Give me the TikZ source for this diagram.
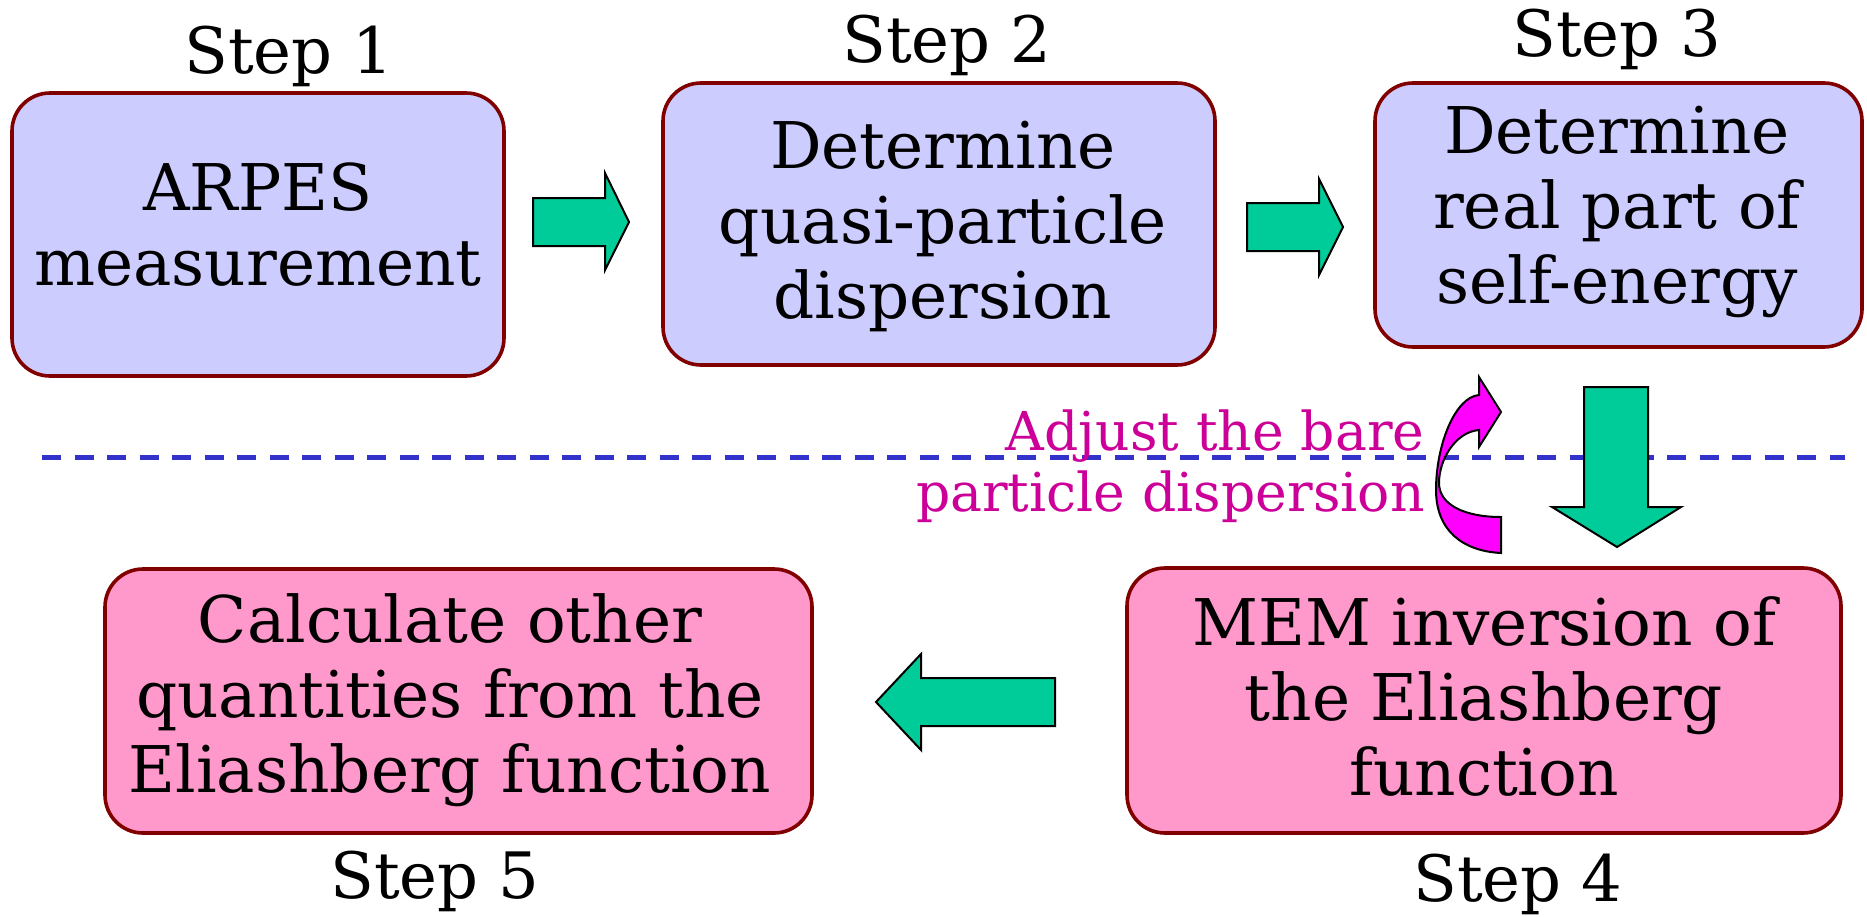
\documentclass[tikz,border=0pt]{standalone}
\usepackage{fontspec}
\setmainfont{DejaVu Serif}
\usetikzlibrary{fit}
\definecolor{boxedge}{RGB}{128,0,0}
\definecolor{bluefill}{RGB}{204,204,255}
\definecolor{pinkfill}{RGB}{255,153,204}
\definecolor{arrowgreen}{RGB}{0,204,153}
\definecolor{dashblue}{RGB}{51,51,204}
\definecolor{magtext}{RGB}{204,0,153}
\definecolor{magarrow}{RGB}{255,0,255}
\tikzset{
  stepbox/.style={draw=boxedge, line width=1.8pt, rounded corners=19pt, inner sep=0pt},
  bluebox/.style={stepbox, fill=bluefill},
  pinkbox/.style={stepbox, fill=pinkfill},
  boxtext/.style={align=center, inner sep=0pt, font=\fontsize{32.2pt}{37.5pt}\selectfont},
  steplabel/.style={anchor=base, inner sep=0pt, font=\fontsize{32pt}{37.5pt}\selectfont},
  blockarrow/.style={draw=black, line width=1pt, fill=arrowgreen, line join=miter},
}
\begin{document}
\begin{tikzpicture}[x=0.5pt, y=-0.5pt]
\useasboundingbox (0,0) rectangle (1867,916);
% dashed separator
\coordinate (dl) at (42,457);
\coordinate (dr) at (1845,457);
\draw[dashblue, line width=2.5pt, dash pattern=on 9.5pt off 6.75pt] (dl) -- (dr);
% boxes
\node[bluebox, fit={(12,93)(504,376)}] (b1) {};
\node[bluebox, fit={(663,83)(1215,365)}] (b2) {};
\node[bluebox, fit={(1375,83)(1862,347)}] (b3) {};
\node[pinkbox, fit={(1127,568)(1841,833)}] (b4) {};
\node[pinkbox, fit={(105,569)(812,833)}] (b5) {};
% texts
\node[boxtext] (t1) at (258,225) {ARPES\\measurement};
\node[boxtext] (t2) at (943,226) {Determine\\quasi-particle\\dispersion};
\node[boxtext] (t3) at (1617,212) {Determine\\real part of\\self-energy};
\node[boxtext] (t4) at (1484,696) {MEM inversion of\\the Eliashberg\\function};
\node[boxtext] (t5) at (450,700) {Calculate other\\quantities from the\\Eliashberg function};
% step labels
\node[steplabel] (s1) at (289,73) {Step 1};
\node[steplabel] (s2) at (947,62) {Step 2};
\node[steplabel] (s3) at (1617,56) {Step 3};
\node[steplabel] (s4) at (1518,901) {Step 4};
\node[steplabel] (s5) at (435,898) {Step 5};
% block arrows
\draw[blockarrow] (533,198) -- (605,198) -- (605,173) -- (629,222) -- (605,270) -- (605,246) -- (533,246) -- cycle;
\draw[blockarrow] (1247,203) -- (1319,203) -- (1319,179) -- (1343,227) -- (1319,275) -- (1319,251) -- (1247,251) -- cycle;
\draw[blockarrow] (1584,387) -- (1648,387) -- (1648,507) -- (1681,507) -- (1617,547) -- (1552,507) -- (1584,507) -- cycle;
\draw[blockarrow] (1055,678) -- (921,678) -- (921,654) -- (876,702) -- (921,750) -- (921,726) -- (1055,726) -- cycle;
% curved magenta arrow
\draw[draw=black, line width=1pt, fill=magarrow, line join=miter]
  (1501,553) .. controls (1462,551) and (1436,530) .. (1436,490)
  .. controls (1436,445) and (1455,397) .. (1479,395)
  -- (1479,377) -- (1501,412) -- (1479,447) -- (1479,430)
  .. controls (1455,432) and (1439,460) .. (1439,483)
  .. controls (1439,505) and (1465,517) .. (1501,517) -- cycle;
% magenta label
\node[anchor=east, align=right, inner sep=0pt, text=magtext, font=\fontsize{26.8pt}{30.5pt}\selectfont] (adj) at (1425,466) {Adjust the bare\\particle dispersion};
\end{tikzpicture}
\end{document}
